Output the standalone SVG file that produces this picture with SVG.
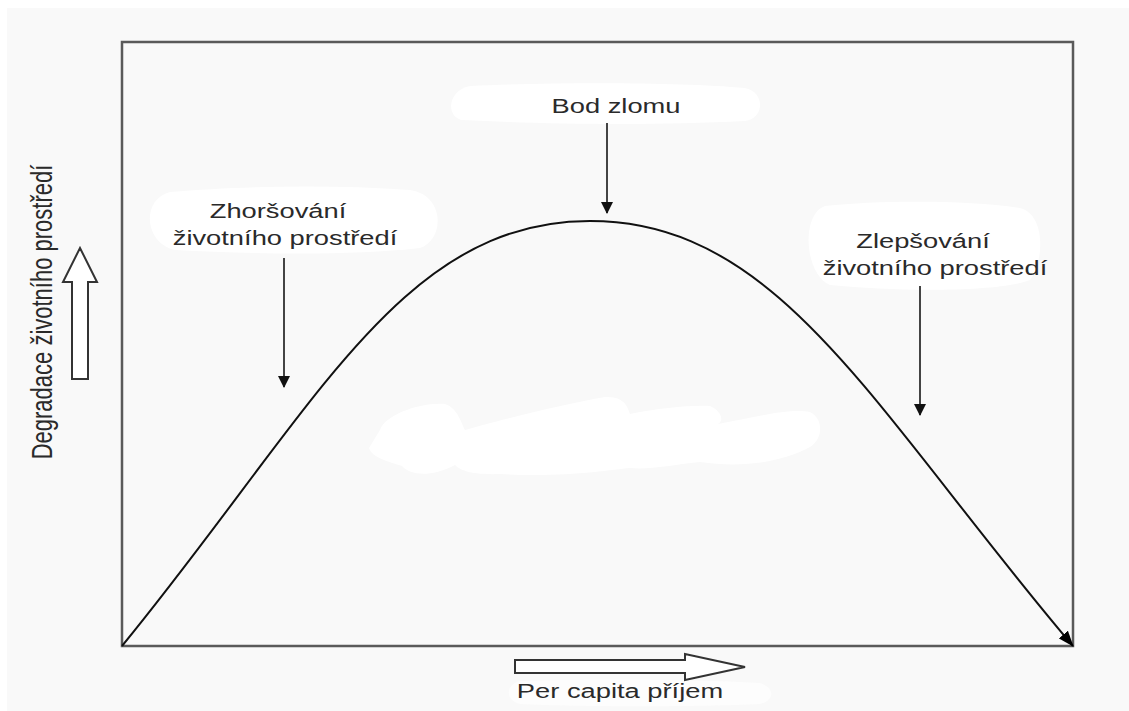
<svg xmlns="http://www.w3.org/2000/svg" width="1129" height="711" viewBox="0 0 1129 711">
  <style>
    .lbl { font-family: "Liberation Sans", Arial, sans-serif; font-size: 21px; fill: #2a2a2a; text-anchor: middle; }
    .blob { fill: #ffffff; stroke: none; }
    .ptr { stroke: #444; stroke-width: 2; fill: none; }
    .block { fill: #ffffff; stroke: #333; stroke-width: 2; }
  </style>
  <defs>
    <marker id="tip" viewBox="0 0 12 12" refX="11" refY="6" markerWidth="12" markerHeight="12" markerUnits="userSpaceOnUse" orient="auto">
      <path d="M0,0 L12,6 L0,12 Z" fill="#111"/>
    </marker>
    <marker id="endtip" viewBox="0 0 16 12" refX="15" refY="6" markerWidth="16" markerHeight="12" markerUnits="userSpaceOnUse" orient="auto">
      <path d="M0,0 L16,6 L0,12 Z" fill="#000"/>
    </marker>
  </defs>

  <!-- background -->
  <rect x="0" y="0" width="1129" height="711" fill="#ffffff"/>
  <rect x="7" y="8" width="1122" height="703" fill="#f9f9f9"/>

  <!-- white patches -->
  <g id="patches">
    <path class="blob" d="M470,86 C560,82 680,82 745,88 C765,92 765,118 745,121 C650,126 540,124 462,120 C445,116 448,90 470,86 Z"/>
    <path class="blob" d="M170,192 C240,186 330,184 410,190 C445,195 445,240 420,248 C350,256 250,254 175,250 C145,244 140,200 170,192 Z"/>
    <path class="blob" d="M825,206 C880,200 970,200 1020,208 C1045,214 1045,260 1030,280 C1000,292 900,292 830,285 C805,275 800,215 825,206 Z"/>
    <path class="blob" d="M380,430 C385,415 420,402 445,404 C458,408 462,425 465,430 C500,420 560,405 605,397 C625,396 628,408 630,414 C660,408 690,405 710,406 C720,410 725,420 718,424 C760,416 790,408 810,412 C825,420 822,440 810,447 C780,463 740,468 700,462 C670,465 650,470 630,468 C610,470 560,478 500,474 C470,475 460,470 455,465 C430,478 410,475 402,466 C390,462 372,458 369,448 Z"/>
    <path d="M520,681 C580,679 700,679 760,683 C775,688 775,700 760,704 C700,707 580,707 520,704 C505,700 505,685 520,681 Z" fill="#fdfdfd"/>
  </g>

  <!-- frame -->
  <g id="frame">
    <rect x="122" y="42" width="951" height="604" fill="none" stroke="#5a5a5a" stroke-width="2.5"/>
  </g>

  <!-- connectors -->
  <g id="connectors">
    <path id="curve" d="M122,646 C315,410 400,221 590,221 C780,221 873,410 1073,646" fill="none" stroke="#111" stroke-width="2" marker-end="url(#endtip)"/>
    <line class="ptr" x1="607" y1="123" x2="607" y2="213" marker-end="url(#tip)"/>
    <line class="ptr" x1="284" y1="258" x2="284" y2="387" marker-end="url(#tip)"/>
    <line class="ptr" x1="920" y1="286" x2="920" y2="415" marker-end="url(#tip)"/>
  </g>

  <!-- axis block arrows -->
  <g id="y-arrow">
    <path class="block" d="M72,379 L88,379 L88,282 L97,282 L80,248 L63,282 L72,282 Z"/>
  </g>
  <g id="x-arrow">
    <path class="block" d="M515,660 L685,660 L685,654 L745,667 L685,680 L685,673 L515,673 Z"/>
  </g>

  <!-- labels -->
  <g id="bod-zlomu">
    <text class="lbl" transform="translate(616,113) scale(1.3,1)">Bod zlomu</text>
  </g>
  <g id="zhorsovani">
    <text class="lbl" transform="translate(278,218) scale(1.3,1)">Zhoršování</text>
    <text class="lbl" transform="translate(285,245) scale(1.3,1)">životního prostředí</text>
  </g>
  <g id="zlepsovani">
    <text class="lbl" transform="translate(923,248) scale(1.3,1)">Zlepšování</text>
    <text class="lbl" transform="translate(935,275) scale(1.3,1)">životního prostředí</text>
  </g>
  <g id="y-label">
    <text class="lbl" style="font-size:22px" transform="translate(52,312) scale(1.3,1) rotate(-90)">Degradace životního prostředí</text>
  </g>
  <g id="x-label">
    <text class="lbl" transform="translate(620,698) scale(1.3,1)">Per capita příjem</text>
  </g>
</svg>
